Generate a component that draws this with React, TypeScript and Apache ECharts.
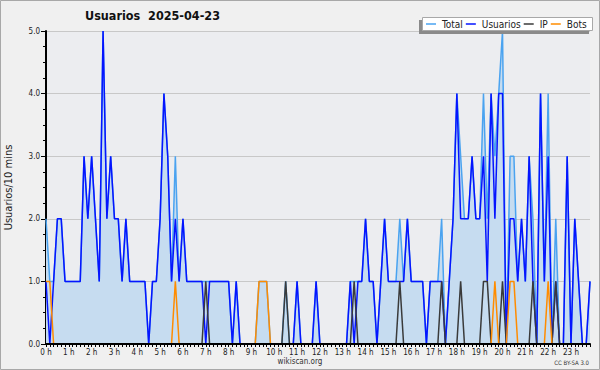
import React, { useEffect, useRef } from "react";
import * as echarts from "echarts";

// 10-minute slots, 2025-04-23
const hourLabels = [
  "0 h", "1 h", "2 h", "3 h", "4 h", "5 h", "6 h", "7 h", "8 h", "9 h", "10 h", "11 h",
  "12 h", "13 h", "14 h", "15 h", "16 h", "17 h", "18 h", "19 h", "20 h", "21 h", "22 h", "23 h",
];
const slots = Array.from({ length: 144 }, (_, i) =>
  `${String(Math.floor(i / 6)).padStart(2, "0")}:${String((i % 6) * 10).padStart(2, "0")}`
);

const total = [
  2, 1, 1, 2, 2, 1, 1, 1, 1, 1,
  3, 2, 3, 2, 1, 5, 2, 3, 2, 2,
  1, 2, 1, 1, 1, 1, 1, 0, 1, 1,
  2, 4, 3, 1, 3, 1, 2, 1, 1, 1,
  1, 1, 1, 1, 1, 1, 1, 1, 1, 0,
  1, 0, 0, 0, 0, 0, 1, 1, 1, 0,
  0, 0, 0, 1, 0, 0, 1, 0, 0, 0,
  0, 1, 0, 0, 0, 0, 0, 0, 0, 0,
  1, 1, 1, 1, 2, 1, 1, 0, 1, 2,
  1, 1, 1, 2, 1, 2, 1, 1, 1, 1,
  0, 1, 1, 1, 2, 0, 1, 2, 4, 3,
  2, 2, 3, 2, 2, 4, 2, 4, 3, 4,
  5, 0, 3, 3, 1, 2, 1, 3, 2, 0,
  4, 1, 4, 0, 2, 0, 0, 3, 0, 2,
  1, 0, 0, 1,
];
const usuarios = [
  1, 0, 1, 2, 2, 1, 1, 1, 1, 1,
  3, 2, 3, 2, 1, 5, 2, 3, 2, 2,
  1, 2, 1, 1, 1, 1, 1, 0, 1, 1,
  2, 4, 3, 1, 2, 1, 2, 1, 1, 1,
  1, 1, 0, 1, 1, 1, 1, 1, 1, 0,
  1, 0, 0, 0, 0, 0, 0, 0, 0, 0,
  0, 0, 0, 0, 0, 0, 1, 0, 0, 0,
  0, 1, 0, 0, 0, 0, 0, 0, 0, 0,
  1, 0, 1, 1, 2, 1, 1, 0, 1, 2,
  1, 1, 1, 1, 1, 2, 1, 1, 1, 1,
  0, 1, 1, 1, 1, 0, 1, 2, 4, 2,
  2, 2, 3, 2, 2, 3, 1, 4, 2, 4,
  4, 0, 2, 2, 1, 2, 1, 3, 1, 0,
  4, 1, 3, 0, 1, 0, 0, 3, 0, 2,
  1, 0, 0, 1,
];
const ip = [
  0, 0, 0, 0, 0, 0, 0, 0, 0, 0,
  0, 0, 0, 0, 0, 0, 0, 0, 0, 0,
  0, 0, 0, 0, 0, 0, 0, 0, 0, 0,
  0, 0, 0, 0, 0, 0, 0, 0, 0, 0,
  0, 0, 1, 0, 0, 0, 0, 0, 0, 0,
  0, 0, 0, 0, 0, 0, 0, 0, 0, 0,
  0, 0, 0, 1, 0, 0, 0, 0, 0, 0,
  0, 0, 0, 0, 0, 0, 0, 0, 0, 0,
  0, 1, 0, 0, 0, 0, 0, 0, 0, 0,
  0, 0, 0, 1, 0, 0, 0, 0, 0, 0,
  0, 0, 0, 0, 1, 0, 0, 0, 0, 1,
  0, 0, 0, 0, 0, 1, 1, 0, 0, 0,
  1, 0, 0, 0, 0, 0, 0, 0, 1, 0,
  0, 0, 0, 0, 1, 0, 0, 0, 0, 0,
  0, 0, 0, 0,
];
const bots = [
  1, 1, 0, 0, 0, 0, 0, 0, 0, 0,
  0, 0, 0, 0, 0, 0, 0, 0, 0, 0,
  0, 0, 0, 0, 0, 0, 0, 0, 0, 0,
  0, 0, 0, 0, 1, 0, 0, 0, 0, 0,
  0, 0, 0, 0, 0, 0, 0, 0, 0, 0,
  0, 0, 0, 0, 0, 0, 1, 1, 1, 0,
  0, 0, 0, 0, 0, 0, 0, 0, 0, 0,
  0, 0, 0, 0, 0, 0, 0, 0, 0, 0,
  0, 0, 0, 0, 0, 0, 0, 0, 0, 0,
  0, 0, 0, 0, 0, 0, 0, 0, 0, 0,
  0, 0, 0, 0, 0, 0, 0, 0, 0, 0,
  0, 0, 0, 0, 0, 0, 0, 0, 1, 0,
  0, 0, 1, 1, 0, 0, 0, 0, 0, 0,
  0, 0, 1, 0, 0, 0, 0, 0, 0, 0,
  0, 0, 0, 0,
];

const FONT = "'DejaVu Sans Condensed', 'DejaVu Sans', sans-serif";

export default function App() {
  const ref = useRef<HTMLDivElement>(null);
  useEffect(() => {
    if (!ref.current) return;
    const chart = echarts.init(ref.current, null, { renderer: "svg" });
    const lineSeries = (name: string, data: number[], color: string, extra: any = {}) => ({
      name,
      type: "line",
      data,
      showSymbol: false,
      symbol: "none",
      silent: true,
      lineStyle: { color, width: 1.5 },
      itemStyle: { color },
      emphasis: { disabled: true },
      ...extra,
    });
    chart.setOption({
      animation: false,
      backgroundColor: "#f0f0f0",
      textStyle: { fontFamily: FONT },
      title: {
        text: "Usuarios  2025-04-23",
        left: 85,
        top: 9,
        padding: 0,
        textStyle: { fontFamily: FONT, fontSize: 12.5, fontWeight: "bold", color: "#111" },
      },
      legend: {
        left: 426,
        top: 19,
        itemGap: 3,
        itemWidth: 10,
        itemHeight: 12,
        padding: 0,
        icon: "path://M0,0H10V1.5H0Z",
        textStyle: { fontFamily: FONT, fontSize: 10, color: "#222", padding: [0, 0, 0, 1] },
        data: ["Total", "Usuarios", "IP", "Bots"],
        z: 60,
      },
      grid: {
        left: 46,
        right: 10,
        top: 31,
        bottom: 26,
        show: true,
        backgroundColor: "#ecedf0",
        borderWidth: 0,
        containLabel: false,
        outerBoundsMode: "none",
      },
      xAxis: {
        type: "category",
        data: slots,
        boundaryGap: false,
        z: 10,
        axisLine: { show: true, lineStyle: { color: "#000", width: 2 } },
        axisTick: { show: true, interval: 0, length: 3, lineStyle: { color: "#000", width: 1 } },
        axisLabel: {
          interval: 0,
          margin: 4,
          fontFamily: FONT,
          fontSize: 8,
          color: "#222",
          formatter: (_v: string, idx: number) => (idx % 6 === 0 ? hourLabels[idx / 6] : ""),
        },
        splitLine: { show: false },
      },
      yAxis: {
        type: "value",
        min: 0,
        max: 5,
        interval: 1,
        name: "Usuarios/10 mins",
        nameLocation: "middle",
        nameGap: 32,
        nameTextStyle: { fontFamily: FONT, fontSize: 11, color: "#222" },
        axisLine: { show: true, lineStyle: { color: "#000", width: 2 } },
        axisTick: { show: true, length: 5, lineStyle: { color: "#000", width: 1 } },
        minorTick: { show: true, splitNumber: 4, length: 3, lineStyle: { color: "#000", width: 1 } },
        axisLabel: {
          margin: 6,
          fontFamily: FONT,
          fontSize: 8,
          color: "#222",
          formatter: (v: number) => v.toFixed(1),
        },
        splitLine: { show: true, lineStyle: { color: "#c8c8c8", width: 1 } },
      },
      graphic: [
        {
          type: "rect",
          silent: true,
          z: 50,
          shape: { x: 419, y: 20, width: 170, height: 14 },
          style: { fill: "#8a8a8a" },
        },
        {
          type: "rect",
          silent: true,
          z: 51,
          shape: { x: 422.5, y: 17.5, width: 170, height: 13 },
          style: { fill: "#ffffff", stroke: "#a8a8a8", lineWidth: 1 },
        },
        {
          type: "text",
          silent: true,
          x: 300,
          y: 361,
          style: {
            text: "wikiscan.org",
            fontFamily: FONT,
            fontSize: 8,
            fill: "#333",
            align: "center",
            verticalAlign: "middle",
          },
        },
        {
          type: "text",
          silent: true,
          x: 589,
          y: 362,
          style: {
            text: "CC BY-SA 3.0",
            fontFamily: FONT,
            fontSize: 6,
            fill: "#333",
            align: "right",
            verticalAlign: "middle",
          },
        },
        {
          type: "rect",
          silent: true,
          z: 100,
          shape: { x: 0.5, y: 0.5, width: 599, height: 369 },
          style: { fill: "none", stroke: "#a8a8a8", lineWidth: 1 },
        },
      ],
      series: [
        lineSeries("Total", total, "#4aa3f0", {
          areaStyle: { color: "#c6dcf0", opacity: 1 },
        }),
        lineSeries("Usuarios", usuarios, "#0514ff"),
        lineSeries("IP", ip, "#3a3a3a"),
        lineSeries("Bots", bots, "#ff8c00"),
      ],
    });
    return () => chart.dispose();
  }, []);
  return (
    <div
      ref={ref}
      style={{ position: "fixed", left: 0, top: 0, width: 600, height: 370 }}
    />
  );
}
